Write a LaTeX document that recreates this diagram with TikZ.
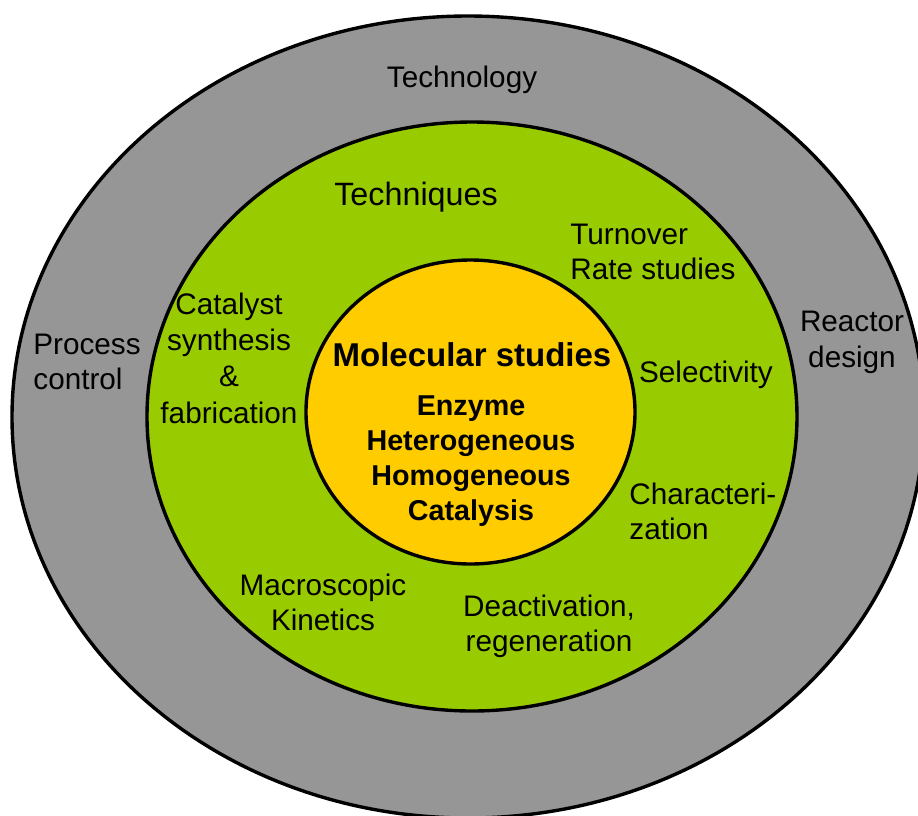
\documentclass[tikz,border=0pt]{standalone}
\usepackage{fontspec}
\setmainfont{Liberation Sans}
\usepackage{xcolor}
\usepackage{tikz}

\definecolor{ringgray}{RGB}{150,150,150}
\definecolor{ringgreen}{RGB}{153,204,0}
\definecolor{coreyellow}{RGB}{255,204,0}

\begin{document}
\begin{tikzpicture}[x=0.5pt,y=-0.5pt,thin]
            \tikzset{ring/.style={draw=black, line width=1.7pt},
                     lbl/.style={inner sep=0pt, align=center, font=\fontsize{14.85}{17.5}\selectfont},
                     lblleft/.style={lbl, align=left, anchor=west},
                     core/.style={inner sep=0pt, align=center, font=\bfseries\fontsize{14.35}{17.5}\selectfont}}
            \useasboundingbox (0,0) rectangle (918,816);
            \clip (0,0) rectangle (918,816);
            \filldraw[ring, fill=ringgray] (468,417) ellipse [x radius=456, y radius=401];
            \filldraw[ring, fill=ringgreen] (472,416.5) ellipse [x radius=325, y radius=294.5];
            \filldraw[ring, fill=coreyellow] (470.5,412) ellipse [x radius=164.5, y radius=152];
            \node[lbl] (tech) at (462,80) {Technology};
            \node[lbl, font=\fontsize{16.15}{19}\selectfont] (techq) at (416,197) {Techniques};
            \node[lblleft] (turn) at (570,252) {Turnover\\Rate studies};
            \node[lbl, font=\fontsize{14.85}{18.2}\selectfont] (cat) at (229,358) {Catalyst\\synthesis\\\&\\fabrication};
            \node[lblleft] (proc) at (33,362) {Process\\control};
            \node[lbl, font=\fontsize{14.85}{18}\selectfont] (reac) at (852,342) {Reactor\\design};
            \node[lbl] (sel) at (706,375) {Selectivity};
            \node[lblleft] (char) at (629,511) {Characteri-\\zation};
            \node[lbl] (macro) at (323,602) {Macroscopic\\Kinetics};
            \node[lbl] (deact) at (549,626) {Deactivation,\\regeneration};
            \node[inner sep=0pt, font=\bfseries\fontsize{16.5}{20}\selectfont] (mol) at (472,355) {Molecular studies};
            \node[core] (kinds) at (471,461) {Enzyme\\Heterogeneous\\Homogeneous\\Catalysis};
        \end{tikzpicture}
\end{document}
